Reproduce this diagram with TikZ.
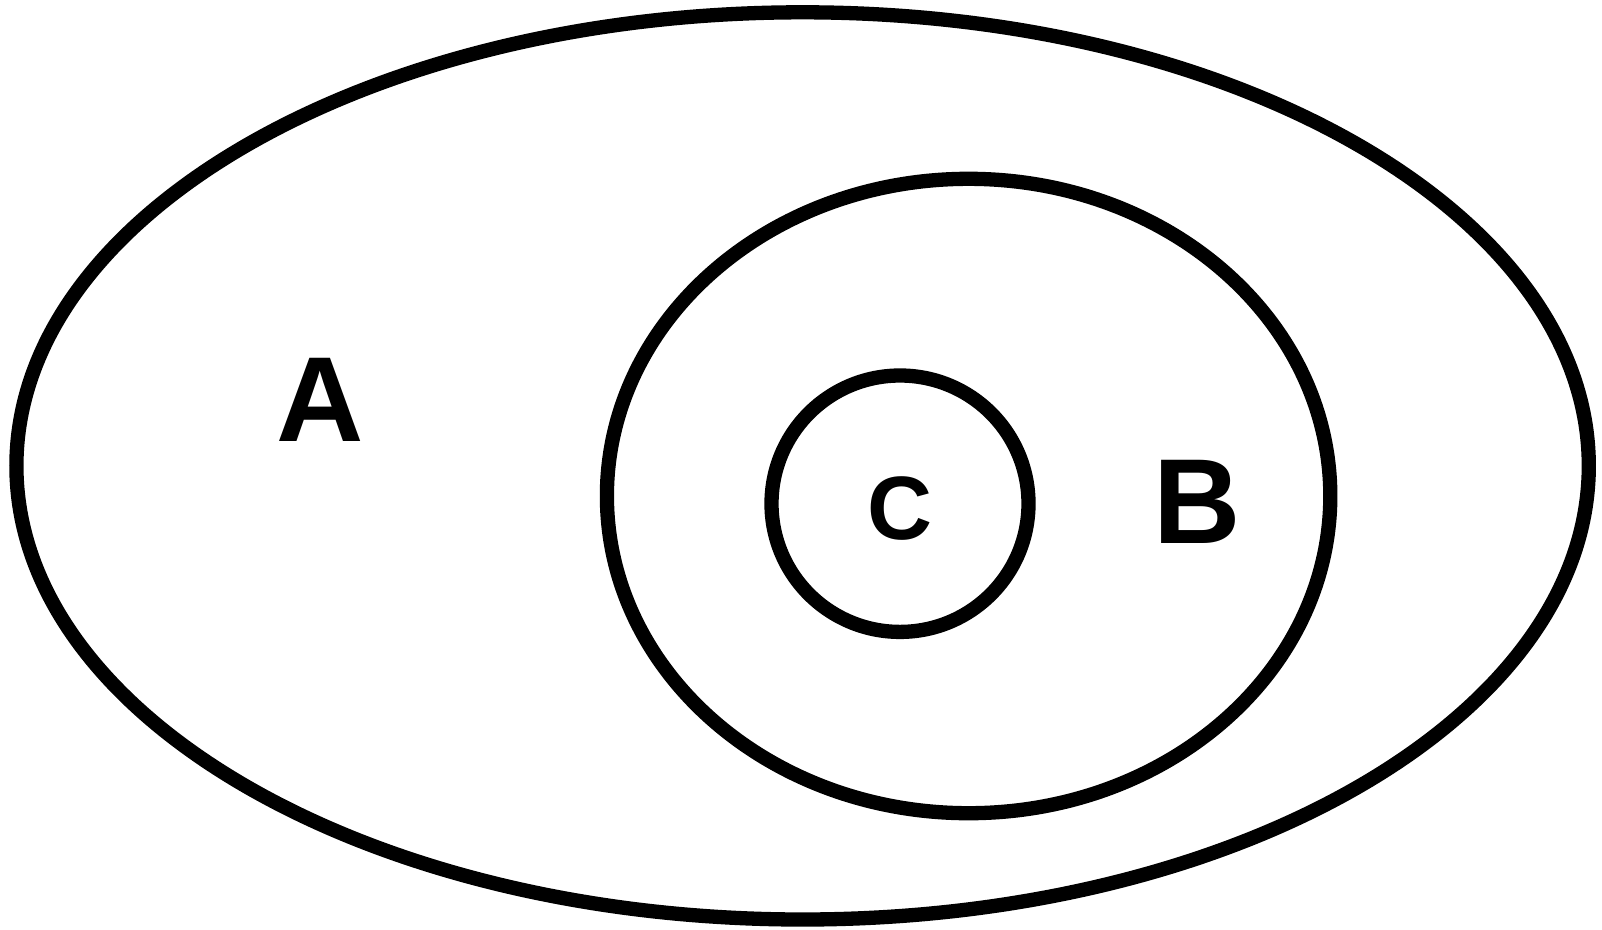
\documentclass[tikz,border=0pt]{standalone}
\usepackage{fontspec}
\setmainfont{Liberation Sans}
\begin{document}
\begin{tikzpicture}[x=1pt,y=-1pt,
  setline/.style={draw=black,line width=14.3pt},
  biglabel/.style={font=\fontsize{121}{121}\selectfont\bfseries,inner sep=0pt},
  smalllabel/.style={font=\fontsize{90}{90}\selectfont\bfseries,inner sep=0pt}]
\useasboundingbox (0,0) rectangle (1602,929);
\draw[setline] (802.6,465.9) ellipse [x radius=786.2, y radius=453.6];
\draw[setline] (968.6,496) ellipse [x radius=361.7, y radius=317.2];
\draw[setline] (900,503.7) ellipse [x radius=128.5, y radius=128.2];
\node[biglabel,anchor=base] (A) at (319.8,441.5) {A};
\node[biglabel,anchor=base] (B) at (1196.9,543.6) {B};
\node[smalllabel,anchor=base] (C) at (900,539.5) {C};
\end{tikzpicture}
\end{document}
